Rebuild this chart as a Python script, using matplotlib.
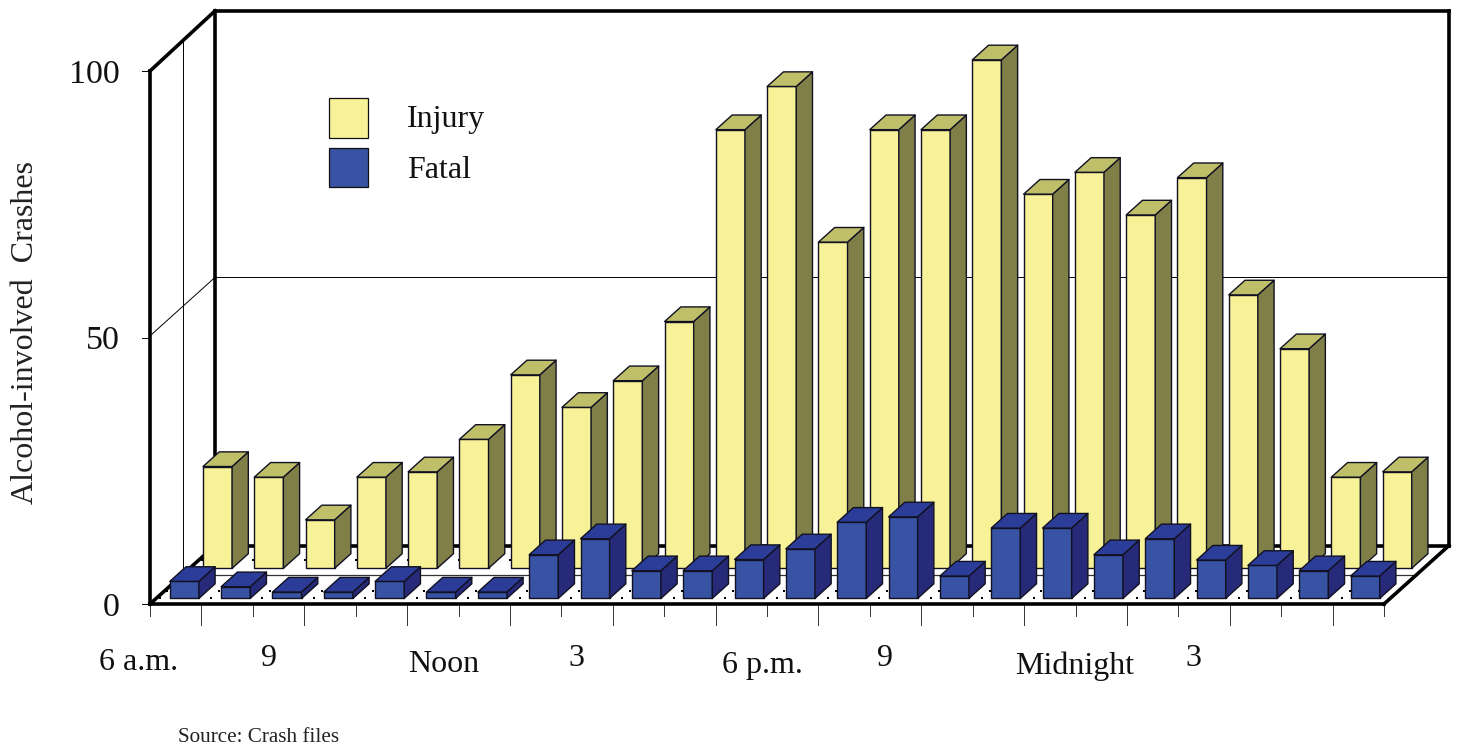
import matplotlib
matplotlib.use("Agg")
import matplotlib.pyplot as plt
from matplotlib.patches import Polygon

injury = [19.1, 17.1, 9.1, 17.1, 18.1, 24.2, 36.3, 30.2, 35.2, 46.3, 82.3, 90.4, 61.2, 82.3, 82.3, 95.4, 70.2, 74.3, 66.3, 73.3, 51.3, 41.2, 17.1, 18.1]
fatal = [3.2, 2.2, 1.2, 1.2, 3.2, 1.2, 1.2, 8.2, 11.2, 5.2, 5.2, 7.3, 9.3, 14.3, 15.3, 4.2, 13.2, 13.2, 8.2, 11.2, 7.2, 6.2, 5.2, 4.2]
y_ticks = [0, 50, 100]
hour_labels = ["6 a.m.", "9", "Noon", "3", "6 p.m.", "9", "Midnight", "3"]
label_centers = [(139, 662), (269, 658), (444, 664), (576, 658), (762, 666), (885, 658), (1075, 666), (1193, 658)]

plt.rcParams["font.family"] = ["Liberation Serif", "DejaVu Serif"]
W, H = 1460, 744
fig = plt.figure(figsize=(W / 100, H / 100), dpi=100)
ax = fig.add_axes([0, 0, 1, 1])
ax.set_xlim(0, W)
ax.set_ylim(H, 0)
ax.axis("off")

X0, Y0 = 150.0, 604.0
SLOT = 1234.0 / len(injury)
UNIT = 5.33
DX, DY = 65.0, 58.5
N = len(injury)


def P(slot, value=0.0, depth=0.0):
    return (X0 + SLOT * slot + DX * depth, Y0 - UNIT * value - DY * depth)


def line(a, b, lw=0.8, z=1, c="black"):
    ax.plot([a[0], b[0]], [a[1], b[1]], color=c, lw=lw, zorder=z, solid_capstyle="projecting")


# frame
THICK = 2.6
line(P(0, 0, 0.5), P(0, 100, 0.5), 0.7)
line(P(0, 0, 0.5), P(N, 0, 0.5), 0.9, c="#333333")
line(P(0, 50.3, 0), P(0, 50.3, 1), 0.7)
line(P(0, 50.3, 1), P(N, 50.3, 1), 0.7)
for v in y_ticks:
    line((X0 - 8, P(0, v)[1]), P(0, v), 0.7)
top = 100.3
line(P(0, 0, 1), P(0, top, 1), THICK)
line(P(0, top, 1), P(N, top, 1), THICK)
line(P(N, top, 1), P(N, 0, 1), THICK)
line(P(0, 0, 1), P(N, 0, 1), THICK)
line(P(0, 0), P(0, 100), THICK, 5)
line(P(0, 100), P(0, top, 1), THICK, 5)
line(P(0, 0), P(0, 0, 1), THICK, 1.5)
line(P(0, 0), P(N, 0), THICK, 5)
line(P(N, 0), P(N, 0, 1), THICK, 5)

# floor dots
dot_x, dot_y = [], []
for d in (0.1, 0.22, 0.75):
    for i in range(N):
        px, py = P(i + 0.06, 0, d)
        dot_x.append(px)
        dot_y.append(py)
ax.scatter(dot_x, dot_y, s=3, c="black", marker="s", linewidths=0, zorder=1.2)

# ticks
for i in range(N + 1):
    px, py = P(i)
    line((px, py), (px, py + (21 if i % 2 else 12)), 0.7, c="#333333")


def bar(left, value, base_depth, front, side, roof, z):
    width, depth = 0.565, 0.25
    a = P(left, 0, base_depth)
    b = P(left + width, 0, base_depth)
    c = P(left + width, value, base_depth)
    d = P(left, value, base_depth)
    e = P(left + width, 0, base_depth + depth)
    f = P(left + width, value, base_depth + depth)
    g = P(left, value, base_depth + depth)
    for pts, col in (([a, b, c, d], front), ([b, e, f, c], side), ([d, c, f, g], roof)):
        ax.add_patch(Polygon(pts, closed=True, fc=col, ec="#111122", lw=1.0, zorder=z, joinstyle="round"))


for i, v in enumerate(injury):
    bar(i * 0.9975 + 0.26, v, 0.61, "#F7F297", "#7F7F47", "#BFBF69", 3 + i * 0.001)
for i, v in enumerate(fatal):
    bar(i * 0.9985 + 0.265, v, 0.095, "#3953A4", "#262A78", "#2B3D98", 4 + i * 0.001)

# legend
for (yt, yb), col, name, ty in (((98, 138), "#F7F297", "Injury", 120), ((148, 187), "#3953A4", "Fatal", 171)):
    ax.add_patch(Polygon([(329, yt), (368, yt), (368, yb), (329, yb)], closed=True, fc=col, ec="#111111", lw=0.9, zorder=6))
    ax.text(407, ty, name, fontsize=23, va="center", ha="left", color="#111111", zorder=6)

# text
for v, s in zip(y_ticks, ["0", "50", "100"]):
    ax.text(120, P(0, v)[1] + 3.5, s, fontsize=24.5, ha="right", va="center", color="#111111")
for s, (cx, cy) in zip(hour_labels, label_centers):
    ax.text(cx, cy, s, fontsize=23, ha="center", va="center", color="#111111")
ax.text(26, 333, "Alcohol-involved  Crashes", fontsize=23, rotation=90, ha="center", va="center", color="#222222")
ax.text(178, 737, "Source: Crash files", fontsize=15.2, ha="left", va="center", color="#222222")

fig.savefig("out.png", dpi=100)
